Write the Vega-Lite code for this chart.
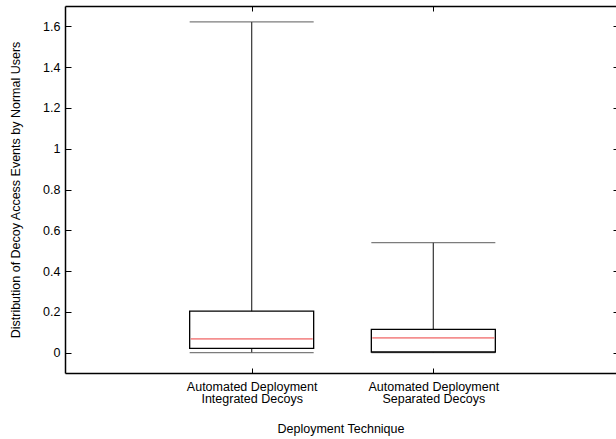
{
  "$schema": "https://vega.github.io/schema/vega-lite/v6.json",
  "width": 551,
  "height": 367,
  "autosize": {"type": "none"},
  "padding": {"left": 65, "top": 6, "right": 0, "bottom": 66},
  "config": {
    "view": {"stroke": null},
    "font": "Liberation Sans",
    "axis": {
      "grid": false,
      "domainColor": "black",
      "domainWidth": 1.5,
      "tickColor": "black",
      "tickWidth": 1,
      "labelColor": "black",
      "titleColor": "black",
      "labelFont": "Liberation Sans",
      "titleFont": "Liberation Sans",
      "labelFontSize": 12.5,
      "titleFontSize": 12.5,
      "titleFontWeight": "normal"
    }
  },
  "data": {
    "values": [
      {"pos": 1, "technique": "Automated Deployment Integrated Decoys", "min": 0, "q1": 0.021, "median": 0.067, "q3": 0.203, "max": 1.622},
      {"pos": 2, "technique": "Automated Deployment Separated Decoys", "min": 0, "q1": 0.003, "median": 0.072, "q3": 0.114, "max": 0.539}
    ]
  },
  "layer": [
    {
      "mark": {"type": "rule", "color": "#444444", "strokeWidth": 1.3},
      "encoding": {
        "x": {
          "field": "pos", "type": "quantitative",
          "scale": {"domain": [0, 2.978], "nice": false, "zero": false},
          "axis": {
            "orient": "bottom",
            "values": [1, 2],
            "tickSize": -5,
            "labelPadding": 12,
            "labelLineHeight": 12.5,
            "labelExpr": "datum.value == 1 ? ['Automated Deployment', 'Integrated Decoys'] : ['Automated Deployment', 'Separated Decoys']",
            "title": "Deployment Technique",
            "titlePadding": 17
          }
        },
        "y": {
          "field": "min", "type": "quantitative",
          "scale": {"domain": [-0.1, 1.7], "nice": false, "zero": false},
          "axis": {
            "orient": "left",
            "values": [0, 0.2, 0.4, 0.6, 0.8, 1, 1.2, 1.4, 1.6],
            "format": "~g",
            "tickSize": -6,
            "labelPadding": 11,
            "title": "Distribution of Decoy Access Events by Normal Users",
            "titlePadding": 20
          }
        },
        "y2": {"field": "max"}
      }
    },
    {
      "mark": {"type": "tick", "orient": "horizontal", "size": 124, "thickness": 1.3, "color": "#444444"},
      "encoding": {
        "x": {
          "field": "pos", "type": "quantitative",
          "axis": {"orient": "top", "values": [1, 2], "tickSize": -5, "labels": false, "title": null}
        },
        "y": {
          "field": "max", "type": "quantitative",
          "axis": {"orient": "right", "values": [0, 0.2, 0.4, 0.6, 0.8, 1, 1.2, 1.4, 1.6], "tickSize": -3, "labels": false, "domain": false, "title": null}
        }
      }
    },
    {
      "mark": {"type": "tick", "orient": "horizontal", "size": 124, "thickness": 1.3, "color": "#444444"},
      "encoding": {
        "x": {"field": "pos", "type": "quantitative", "axis": null},
        "y": {"field": "min", "type": "quantitative", "axis": null}
      }
    },
    {
      "mark": {"type": "bar", "width": 124, "fill": "white", "stroke": "black", "strokeWidth": 1.3},
      "encoding": {
        "x": {"field": "pos", "type": "quantitative", "axis": null},
        "y": {"field": "q1", "type": "quantitative", "axis": null},
        "y2": {"field": "q3"}
      }
    },
    {
      "mark": {"type": "tick", "orient": "horizontal", "size": 122, "thickness": 1.8, "color": "#f06060"},
      "encoding": {
        "x": {"field": "pos", "type": "quantitative", "axis": null},
        "y": {"field": "median", "type": "quantitative", "axis": null}
      }
    }
  ],
  "resolve": {"axis": {"x": "independent", "y": "independent"}}
}
